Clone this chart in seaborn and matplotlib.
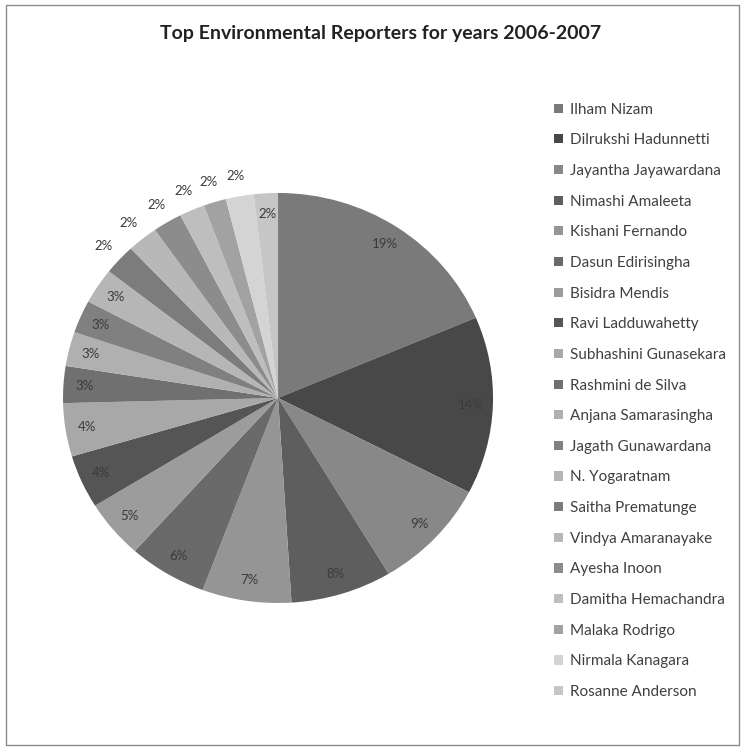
import matplotlib
matplotlib.use("Agg")
import matplotlib.pyplot as plt
from matplotlib.patches import Rectangle
import seaborn as sns

sns.set_theme(style="white")
plt.rcParams['font.family'] = ['Lato', 'DejaVu Sans']

# reporters and their share (%), clockwise from 12 o'clock
reporters = ["Ilham Nizam", "Dilrukshi Hadunnetti", "Jayantha Jayawardana",
             "Nimashi Amaleeta", "Kishani Fernando", "Dasun Edirisingha",
             "Bisidra Mendis", "Ravi Ladduwahetty", "Subhashini Gunasekara",
             "Rashmini de Silva", "Anjana Samarasingha", "Jagath Gunawardana",
             "N. Yogaratnam", "Saitha Prematunge", "Vindya Amaranayake",
             "Ayesha Inoon", "Damitha Hemachandra", "Malaka Rodrigo",
             "Nirmala Kanagara", "Rosanne Anderson"]
shares = [18.6, 14.0, 8.8, 7.6, 6.7, 5.9, 4.6, 4.2, 4.2, 2.9,
          2.7, 2.6, 2.8, 2.4, 2.3, 2.2, 1.9, 1.7, 2.1, 1.8]
greys = ["#7a7a7a", "#484848", "#888888", "#5e5e5e", "#959595",
         "#6a6a6a", "#9c9c9c", "#555555", "#a8a8a8", "#707070",
         "#b0b0b0", "#808080", "#b6b6b6", "#7c7c7c", "#b8b8b8",
         "#8c8c8c", "#bebebe", "#a2a2a2", "#d4d4d4", "#c6c6c6"]
palette = sns.color_palette(greys)

fig = plt.figure(figsize=(7.41, 7.49), dpi=100)
ax = fig.add_axes([0.0125, 0.1265, 0.7254, 0.6843])

wedges, texts, pcts = ax.pie(shares, colors=palette, startangle=90,
                             counterclock=False, autopct='%.0f%%',
                             pctdistance=0.9,
                             wedgeprops=dict(linewidth=0),
                             textprops=dict(fontsize=9.5, color="#3a3a3a"))

# the small slices get their label outside, as in the original
for i, t in enumerate(pcts):
    if 13 <= i <= 18:
        x, y = t.get_position()
        t.set_position((x * 1.1 / 0.9, y * 1.1 / 0.9))

ax.set_aspect('auto')
ax.set_xlim(-1.25, 1.25)
ax.set_ylim(-1.25, 1.25)

fig.text(0.513, 1 - 33 / 749, "Top Environmental Reporters for years 2006-2007",
         ha="center", va="center", fontsize=14, fontweight="bold", color="#222222")

fig.legend(wedges, reporters, loc="upper left", bbox_to_anchor=(0.738, 1 - 95 / 749),
           frameon=False, fontsize=11, handlelength=0.55, handleheight=0.55,
           handletextpad=0.45, labelspacing=1.09, borderpad=0,
           labelcolor="#404040")

fig.patches.append(Rectangle((6 / 741, 4 / 749), 733 / 741, 740 / 749,
                             transform=fig.transFigure, fill=False,
                             edgecolor="#8c8c8c", linewidth=1))

fig.savefig("out.png", dpi=100)
